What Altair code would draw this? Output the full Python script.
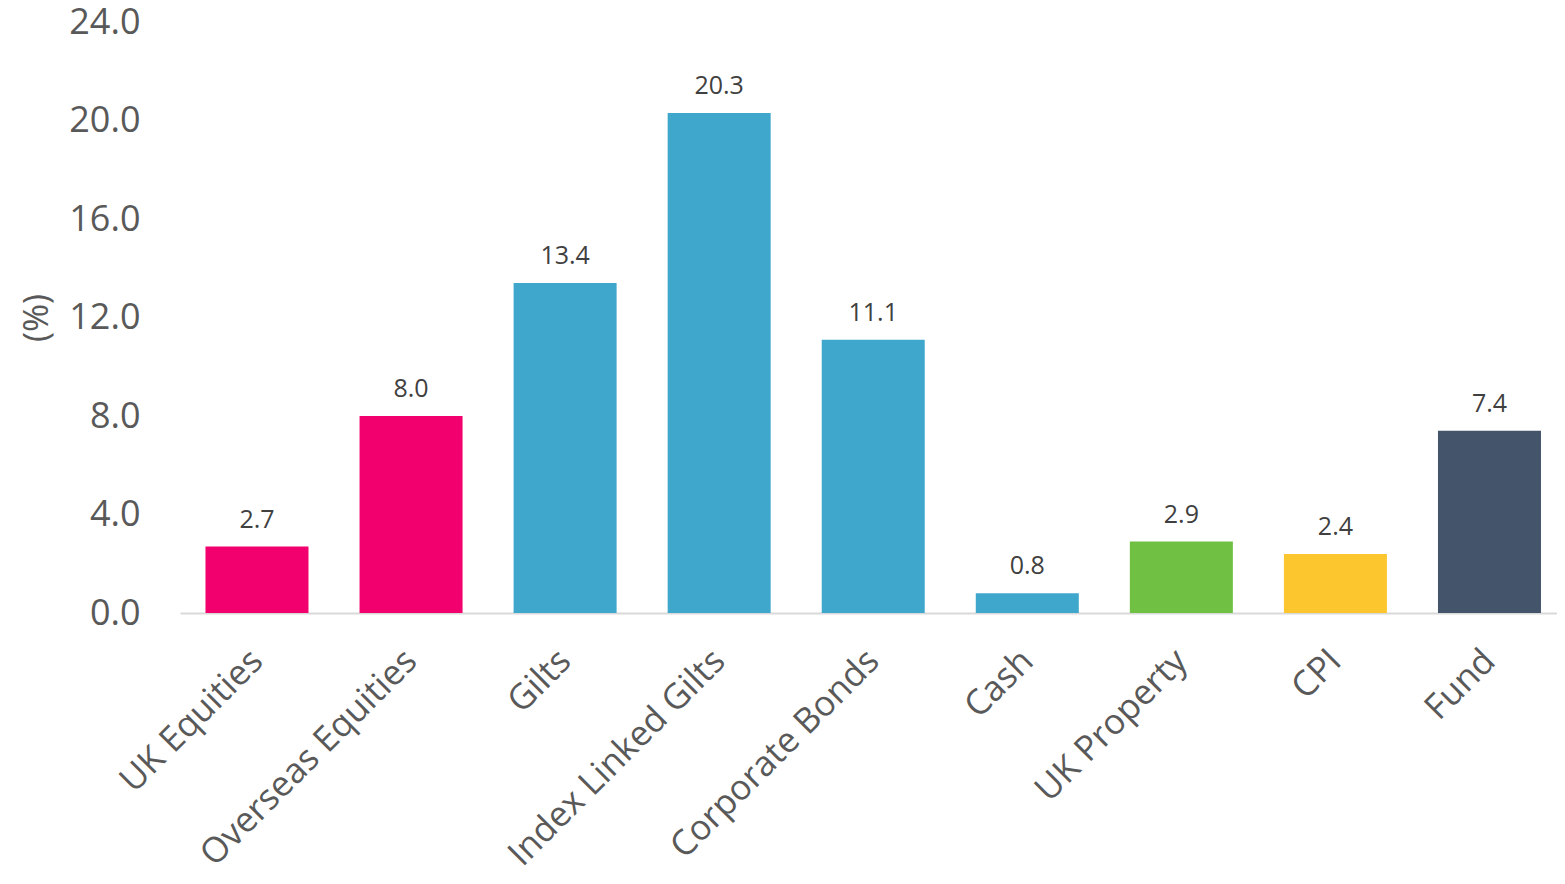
import altair as alt
import pandas as pd

categories = ["UK Equities", "Overseas Equities", "Gilts", "Index Linked Gilts",
              "Corporate Bonds", "Cash", "UK Property", "CPI", "Fund"]
values = [2.7, 8.0, 13.4, 20.3, 11.1, 0.8, 2.9, 2.4, 7.4]
colors = ["#F2006D", "#F2006D", "#3FA7CC", "#3FA7CC", "#3FA7CC", "#3FA7CC",
          "#70C043", "#FCC62F", "#44546A"]
y_ticks = [0, 4, 8, 12, 16, 20, 24]

df = pd.DataFrame({"category": categories, "value": values, "color": colors})

FONT = "Open Sans"

x_scale = alt.Scale(paddingInner=0.3314, paddingOuter=0.1347, align=0.614)

x_enc = alt.X("category:N", sort=categories, title=None, scale=x_scale,
              axis=alt.Axis(labelAngle=-45, labelAlign="right", labelBaseline="middle",
                            labelFontSize=35, labelColor="#595959", labelFont=FONT,
                            labelPadding=42, ticks=False, domainColor="#D9D9D9",
                            domainWidth=2, labelLimit=0))
y_enc = alt.Y("value:Q", title="(%)",
              scale=alt.Scale(domain=[0, 24], nice=False),
              axis=alt.Axis(values=y_ticks, format=".1f", grid=False, domain=False,
                            ticks=False, labelFontSize=36, labelColor="#595959",
                            labelFont=FONT, labelPadding=40, titleFont=FONT,
                            titleFontSize=34, titleColor="#595959",
                            titleFontWeight="normal", titlePadding=14))

bars = alt.Chart(df).mark_bar().encode(
    x=x_enc, y=y_enc, color=alt.Color("color:N", scale=None)
)
labels = alt.Chart(df).mark_text(dy=-14, fontSize=25, color="#404040", font=FONT,
                                 baseline="bottom").encode(
    x=alt.X("category:N", sort=categories, scale=x_scale),
    y="value:Q",
    text=alt.Text("value:Q", format=".1f"),
)

chart = (bars + labels).properties(
    width=1377, height=591,
    autosize=alt.AutoSizeParams(type="none"),
    padding={"left": 172, "top": 14, "right": 0, "bottom": 263},
).configure_view(stroke=None)

chart.save("out.html", embed_options={"renderer": "svg", "actions": False})
